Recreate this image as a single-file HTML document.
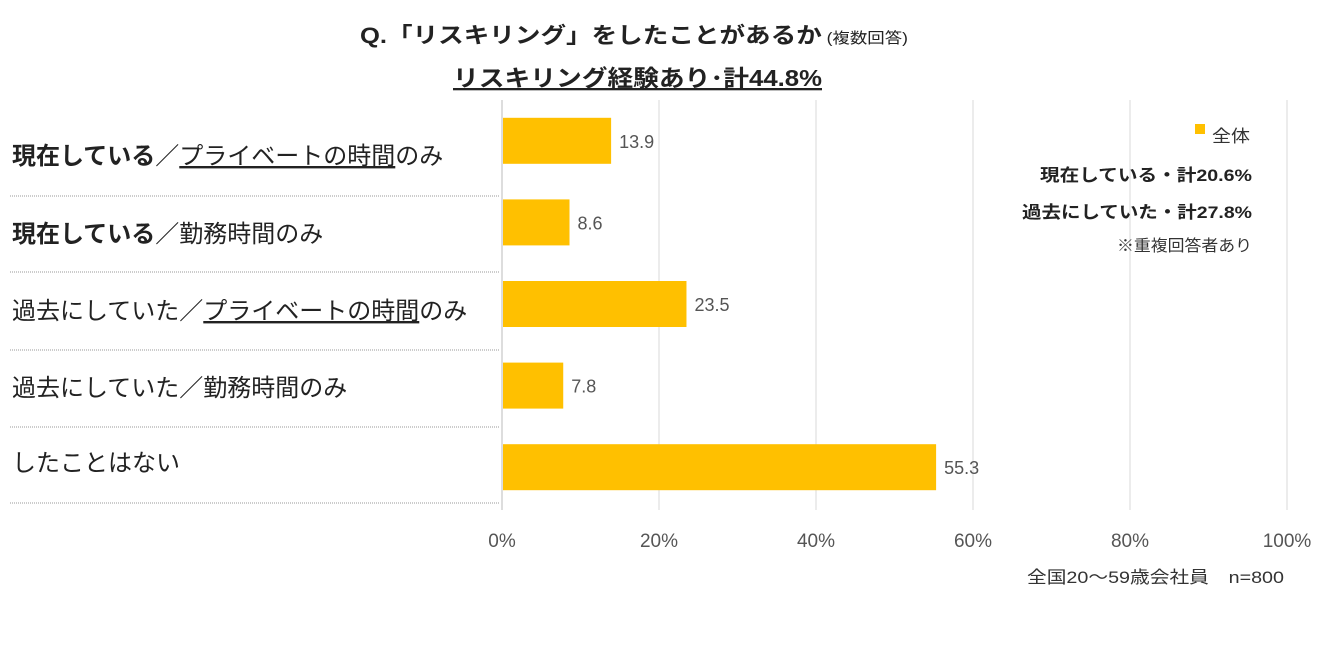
<!DOCTYPE html>
<html><head><meta charset="utf-8"><style>
body{margin:0;background:#fff;width:1340px;height:640px;overflow:hidden;font-family:"Liberation Sans","Noto Sans CJK JP",sans-serif}
svg text{font-family:"Liberation Sans","Noto Sans CJK JP",sans-serif}
</style></head><body>
<svg id="chart" width="1340" height="640">
<text x="360" y="43" font-size="22" font-weight="bold" fill="#222" textLength="548" lengthAdjust="spacingAndGlyphs">Q.「リスキリング」をしたことがあるか<tspan font-size="15" font-weight="normal"> (複数回答)</tspan></text>
<text x="453" y="86" font-size="23" font-weight="bold" fill="#222" text-decoration="underline" textLength="369" lengthAdjust="spacingAndGlyphs">リスキリング経験あり･計44.8%</text>
<g id="grid"></g><g id="bars"></g><g id="cats"></g><g id="ticks"></g>
<rect x="1195" y="124" width="10" height="10" fill="#FFC000"/>
<text x="1212" y="142" font-size="17" fill="#333" textLength="38" lengthAdjust="spacingAndGlyphs">全体</text>
<text x="1040" y="181" font-size="17" font-weight="bold" fill="#222" textLength="212" lengthAdjust="spacingAndGlyphs">現在している・計20.6%</text>
<text x="1022" y="218" font-size="17" font-weight="bold" fill="#222" textLength="230" lengthAdjust="spacingAndGlyphs">過去にしていた・計27.8%</text>
<text x="1117" y="251" font-size="16" fill="#333" textLength="135" lengthAdjust="spacingAndGlyphs">※重複回答者あり</text>
<text x="1027" y="583" font-size="17" fill="#333" textLength="257" lengthAdjust="spacingAndGlyphs">全国20～59歳会社員　n=800</text>
</svg>
<script>
const categories=["現在している／プライベートの時間のみ","現在している／勤務時間のみ","過去にしていた／プライベートの時間のみ","過去にしていた／勤務時間のみ","したことはない"];
const values=[13.9,8.6,23.5,7.8,55.3];
const tickValues=[0,20,40,60,80,100];
const tickLabels=["0%","20%","40%","60%","80%","100%"];
const NS="http://www.w3.org/2000/svg";
const x0=502,x1=1287,yTop=100,band=81.6;
const labelY=[164,242,319,396,471];
const sepY=[196,272,350,427,503];
const xs=v=>x0+(x1-x0)*v/100;
const yc=i=>yTop+band*i+band/2;
function mk(t,a,p,txt){const e=document.createElementNS(NS,t);for(const k in a)e.setAttribute(k,a[k]);if(txt!==undefined)e.textContent=txt;document.getElementById(p).appendChild(e);return e;}
tickValues.forEach((v,i)=>{
  const g=mk('line',{x1:xs(v),x2:xs(v),y1:yTop,y2:yTop+band*5+2,stroke:i==0?'#bbb':'#d9d9d9','stroke-width':1},'grid');
  
  
  const t=mk('text',{x:xs(v),y:547,'text-anchor':'middle','font-size':19,fill:'#555'},'ticks',tickLabels[i]);
  
  
});
const lbl=[
 '<tspan font-weight="bold">現在している</tspan>／<tspan text-decoration="underline">プライベートの時間</tspan>のみ',
 '<tspan font-weight="bold">現在している</tspan>／勤務時間のみ',
 '過去にしていた／<tspan text-decoration="underline">プライベートの時間</tspan>のみ',
 null,null];
values.forEach((v,i)=>{
  const b=mk('rect',{x:x0+1,y:yc(i)-23,width:xs(v)-x0-1,height:46,fill:'#FFC000'},'bars');
  
  
  const vl=mk('text',{x:xs(v)+8,y:yc(i)+7,'font-size':18,fill:'#555'},'bars',v.toFixed(1));
  
  
  const c=mk('text',{x:12,y:labelY[i],'font-size':24,fill:'#222'},'cats',categories[i]);
  if(lbl[i])c.innerHTML=lbl[i];
  
  
  const s=mk('line',{x1:10,x2:500,y1:sepY[i],y2:sepY[i],stroke:'#999','stroke-dasharray':'1,1'},'cats');
  
  
});
</script>
</body></html>
